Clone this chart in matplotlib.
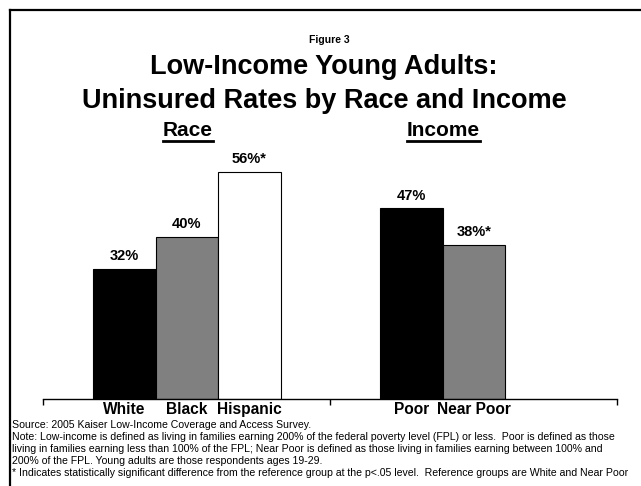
import matplotlib.pyplot as plt
from matplotlib.lines import Line2D

plt.rcParams['font.family'] = ['Liberation Sans', 'DejaVu Sans']

# uninsured rates (%) of low-income young adults
race_labels = ['White', 'Black', 'Hispanic']
race_values = [32, 40, 56]
race_signif = [False, False, True]

income_labels = ['Poor', 'Near Poor']
income_values = [47, 38]
income_signif = [False, True]

bar_colors = ['#000000', '#808080', '#ffffff', '#000000', '#808080']

notes = [
    "Source: 2005 Kaiser Low-Income Coverage and Access Survey.",
    "Note: Low-income is defined as living in families earning 200% of the federal poverty level (FPL) or less.  "
    "Poor is defined as those",
    "living in families earning less than 100% of the FPL; Near Poor is defined as those living in families "
    "earning between 100% and",
    "200% of the FPL. Young adults are those respondents ages 19-29.",
    "* Indicates statistically significant difference from the reference group at the p<.05 level.  "
    "Reference groups are White and Near Poor",
]

W, H = 641, 486
fig = plt.figure(figsize=(W / 100, H / 100), dpi=100)


def fx(px):
    return px / W


def fy(py):
    return 1 - py / H


# frame around the slide (open on the right and bottom)
fig.add_artist(Line2D([fx(10), fx(10)], [fy(10), 0], color='black', lw=1.6,
                      transform=fig.transFigure))
fig.add_artist(Line2D([fx(10), 1], [fy(10), fy(10)], color='black', lw=1.6,
                      transform=fig.transFigure))

fig.text(fx(329), fy(40), 'Figure 3', ha='center', va='center', fontsize=7.5, fontweight='bold')
fig.text(fx(324), fy(67), 'Low-Income Young Adults:', ha='center', va='center',
         fontsize=19.5, fontweight='bold')
fig.text(fx(324), fy(101), 'Uninsured Rates by Race and Income', ha='center', va='center',
         fontsize=19.5, fontweight='bold')

ax = fig.add_axes([fx(43), fy(399), fx(617) - fx(43), fy(150) - fy(399)])

values = race_values + income_values
labels = race_labels + income_labels
signif = race_signif + income_signif
xs = [1.3, 2.3, 3.3, 5.89, 6.89]

bars = ax.bar(xs, values, width=1.0, color=bar_colors, edgecolor='black', linewidth=0.8)
ax.bar_label(bars, labels=[f"{v}%" + ('*' if s else '') for v, s in zip(values, signif)],
             padding=4, fontsize=10.5, fontweight='bold')

ax.set_xlim(0, 9.18)
ax.set_ylim(0, 61.3)
for side in ['top', 'right', 'left']:
    ax.spines[side].set_visible(False)
ax.spines['bottom'].set_linewidth(1.0)
ax.set_yticks([])
ax.set_xticks([0, 4.59, 9.18])
ax.set_xticklabels([])
ax.tick_params(axis='x', which='major', direction='out', length=4, width=1.0)
ax.set_xticks(xs, minor=True)
ax.set_xticklabels(labels, minor=True, fontsize=11.2, fontweight='bold')
ax.tick_params(axis='x', which='minor', length=0, pad=2)

# underlined group headers
headers = []
for label, cx in [('Race', 188), ('Income', 443.5)]:
    headers.append(fig.text(fx(cx), fy(131), label, ha='center', va='center',
                            fontsize=15, fontweight='bold'))
fig.canvas.draw()
renderer = fig.canvas.get_renderer()
for t in headers:
    bb = t.get_window_extent(renderer)
    y = (bb.y0 - 0.5) / H
    fig.add_artist(Line2D([bb.x0 / W, bb.x1 / W], [y, y], color='black', lw=2.0,
                          transform=fig.transFigure))

for i, line in enumerate(notes):
    fig.text(fx(12), fy(424.5 + i * 12.2), line, ha='left', va='center', fontsize=7.6)

fig.savefig('out.png', dpi=100)
